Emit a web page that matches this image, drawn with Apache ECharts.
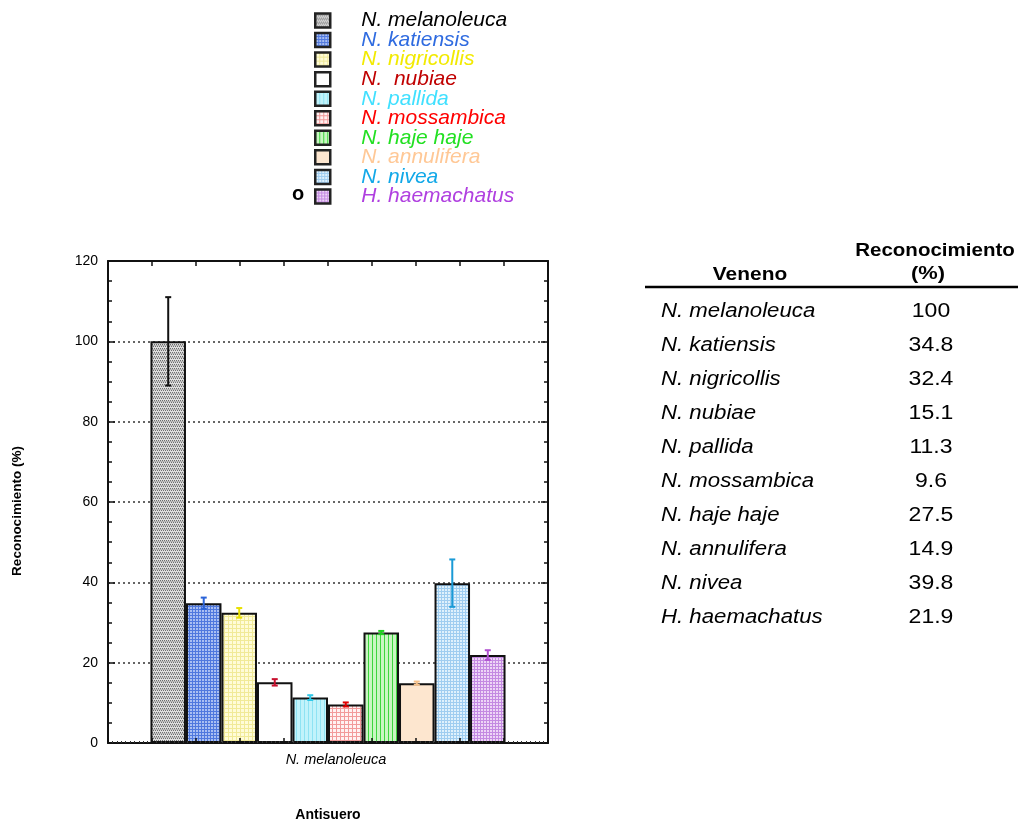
<!DOCTYPE html>
<html>
<head>
<meta charset="utf-8">
<script src="https://cdn.jsdelivr.net/npm/echarts@6/dist/echarts.min.js"></script>
<style>
  html, body { margin: 0; padding: 0; background: #ffffff; }
  #chart { width: 1018px; height: 825px; }
</style>
</head>
<body>
<div id="chart"></div>
<script>
// Venoms tested against the N. melanoleuca antiserum
const venoms = ['N. melanoleuca', 'N. katiensis', 'N. nigricollis', 'N. nubiae', 'N. pallida',
  'N. mossambica', 'N. haje haje', 'N. annulifera', 'N. nivea', 'H. haemachatus'];
// Recognition (%) for each venom
const recognition = [100, 34.8, 32.4, 15.1, 11.3, 9.6, 27.5, 14.9, 39.8, 21.9];
// Error bar half-lengths (%)
const errors = [11, 1.4, 1.2, 0.8, 0.6, 0.5, 0.4, 0.4, 5.9, 1.2];
// Antiserum category on the x axis
const antiserum = ['N. melanoleuca'];
// Y tick values
const yTicks = { min: 0, max: 120, step: 20 };

const FONT = '"Liberation Sans", Arial, sans-serif';
const CAT_GAP = 0.193;

const legendColors = ['#000000', '#2f6be0', '#f2ea00', '#c00000', '#40e0ff',
  '#ff0000', '#22e022', '#ffc896', '#12a8e8', '#b040e0'];
const errColors = ['#111111', '#2a63d8', '#e8e000', '#c8102e', '#30c8e8',
  '#e00000', '#20d020', '#f5c08a', '#1a9ad6', '#b050d0'];

// Small repeating fill textures for the bars
function tile(size, bg, draw) {
  const c = document.createElement('canvas');
  c.width = size; c.height = size;
  const g = c.getContext('2d');
  g.fillStyle = bg; g.fillRect(0, 0, size, size);
  draw(g);
  return { image: c, repeat: 'repeat' };
}
function grid(size, bg, fg, vert, horiz) {
  return tile(size, bg, g => {
    g.fillStyle = fg;
    if (vert) g.fillRect(0, 0, 1, size);
    if (horiz) g.fillRect(0, 0, size, 1);
  });
}
const fills = [
  tile(4, '#dedede', g => {
    g.fillStyle = '#6e6e6e';
    g.fillRect(0, 0, 1, 1); g.fillRect(2, 0, 1, 1);
    g.fillRect(1, 2, 1, 1); g.fillRect(3, 2, 1, 1);
    g.fillStyle = '#b4b4b4';
    g.fillRect(0, 1, 4, 1);
  }),
  grid(3, '#a9bff2', '#4f78de', true, true),
  grid(4, '#fffcd8', '#f1ea98', true, true),
  '#ffffff',
  grid(4, '#c2f3fb', '#8fe3f3', true, false),
  grid(4, '#fff2f2', '#f29a9a', true, true),
  grid(4, '#c9f6c2', '#3dd63d', true, false),
  '#fde6cf',
  grid(3, '#dff1fc', '#9fcdf0', true, true),
  grid(3, '#eed6f6', '#c48ae2', true, true)
];

const barSeries = venoms.map((name, i) => ({
  name: name,
  type: 'bar',
  xAxisIndex: 0,
  yAxisIndex: 0,
  data: [recognition[i]],
  barGap: '0%',
  barCategoryGap: (CAT_GAP * 100) + '%',
  itemStyle: { color: fills[i], borderColor: '#111111', borderWidth: 2 },
  emphasis: { disabled: true },
  z: 2
}));

// Error bars positioned over each bar within the category band
const errorSeries = {
  name: 'error',
  type: 'custom',
  xAxisIndex: 0,
  yAxisIndex: 0,
  z: 5,
  data: recognition.map((v, i) => [0, v, errors[i], i]),
  renderItem: function (params, api) {
    const idx = api.value(3);
    const v = api.value(1), e = api.value(2);
    const band = api.size([1, 0])[0];
    const barW = band * (1 - CAT_GAP) / venoms.length;
    const c = api.coord([api.value(0), v]);
    const x = c[0] + (idx - (venoms.length - 1) / 2) * barW;
    const yHi = api.coord([0, v + e])[1];
    const yLo = api.coord([0, v - e])[1];
    const cap = 3;
    const style = { stroke: errColors[idx], lineWidth: 2 };
    return {
      type: 'group',
      children: [
        { type: 'line', shape: { x1: x, y1: yHi, x2: x, y2: yLo }, style: style },
        { type: 'line', shape: { x1: x - cap, y1: yHi, x2: x + cap, y2: yHi }, style: style },
        { type: 'line', shape: { x1: x - cap, y1: yLo, x2: x + cap, y2: yLo }, style: style }
      ]
    };
  }
};

// Table of recognition values at the right, plus the y axis title
const tableX = 661, valueX = 931, rowY0 = 311, rowStep = 34.05;
const tableGraphics = [
  { type: 'text', x: 750, y: 275, scaleX: 1.1,
    style: { text: 'Veneno', x: 0, y: 0, textAlign: 'center', textVerticalAlign: 'middle',
      font: 'bold 19px ' + FONT, fill: '#000' } },
  { type: 'text', x: 935, y: 251, scaleX: 1.08,
    style: { text: 'Reconocimiento', x: 0, y: 0, textAlign: 'center', textVerticalAlign: 'middle',
      font: 'bold 19px ' + FONT, fill: '#000' } },
  { type: 'text', x: 928, y: 274, scaleX: 1.15,
    style: { text: '(%)', x: 0, y: 0, textAlign: 'center', textVerticalAlign: 'middle',
      font: 'bold 19px ' + FONT, fill: '#000' } },
  { type: 'line', shape: { x1: 645, y1: 287, x2: 1018, y2: 287 },
    style: { stroke: '#000', lineWidth: 2.5 } },
  { type: 'text', left: 292, top: 184,
    style: { text: 'o', font: 'bold 20px ' + FONT, fill: '#000' } },
  { type: 'text', x: 17, y: 511, rotation: Math.PI / 2,
    style: { text: 'Reconocimiento (%)', x: 0, y: 0, textAlign: 'center', textVerticalAlign: 'middle',
      font: 'bold 13.5px ' + FONT, fill: '#000' } }
];
venoms.forEach((name, i) => {
  const y = rowY0 + rowStep * i;
  tableGraphics.push({ type: 'text', x: tableX, y: y, scaleX: 1.11,
    style: { text: name, x: 0, y: 0, textAlign: 'left', textVerticalAlign: 'middle',
      font: 'italic 20px ' + FONT, fill: '#000' } });
  tableGraphics.push({ type: 'text', x: valueX, y: y, scaleX: 1.15,
    style: { text: String(recognition[i]), x: 0, y: 0, textAlign: 'center', textVerticalAlign: 'middle',
      font: '20px ' + FONT, fill: '#000' } });
});

// Frame axes: every side keeps its own edge and shows inward ticks
const axisLine = { show: true, onZero: false, lineStyle: { color: '#111111', width: 2 } };
const frameX = {
  type: 'value', min: 0, max: 10, interval: 1, z: 10,
  axisLine: axisLine,
  axisTick: { show: true, inside: true, length: 5, lineStyle: { color: '#111', width: 1.5 } },
  minorTick: { show: true, splitNumber: 10, length: 2, lineStyle: { color: '#333', width: 1 } },
  axisLabel: { show: false },
  splitLine: { show: false }
};
const frameY = {
  type: 'value', min: yTicks.min, max: yTicks.max, interval: yTicks.step,
  axisLine: axisLine,
  axisTick: { show: true, inside: true, length: 7, lineStyle: { color: '#111', width: 1.5 } },
  minorTick: { show: true, splitNumber: 4, length: 4, lineStyle: { color: '#111', width: 1.5 } }
};

const chart = echarts.init(document.getElementById('chart'), null, { renderer: 'canvas' });
chart.setOption({
  animation: false,
  backgroundColor: '#ffffff',
  textStyle: { fontFamily: FONT },
  grid: { left: 108, right: 470, top: 261, bottom: 82, outerBoundsMode: 'none' },
  legend: {
    orient: 'vertical',
    left: 314,
    top: 10,
    padding: 0,
    icon: 'rect',
    itemWidth: 15,
    itemHeight: 14,
    itemGap: -1.45,
    selectedMode: false,
    itemStyle: { borderColor: '#222', borderWidth: 2.5 },
    formatter: n => n === 'N. nubiae' ? 'N.  nubiae' : n,
    textStyle: { fontFamily: FONT, fontStyle: 'italic', fontSize: 21,
      padding: [0, 0, 0, 26] },
    data: venoms.map((n, i) => ({ name: n, textStyle: { color: legendColors[i] } }))
  },
  xAxis: [
    {
      type: 'category', data: antiserum, position: 'bottom',
      axisLine: { show: false, onZero: false }, axisTick: { show: false },
      axisLabel: { fontFamily: FONT, fontStyle: 'italic', fontSize: 14.5, color: '#000',
        margin: 9, padding: [0, 0, 0, 16] }
    },
    Object.assign({}, frameX, {
      position: 'bottom',
      name: 'Antisuero', nameLocation: 'middle', nameGap: 65,
      nameTextStyle: { fontFamily: FONT, fontWeight: 'bold', fontSize: 14, color: '#000' }
    }),
    Object.assign({}, frameX, { position: 'top', minorTick: { show: false } })
  ],
  yAxis: [
    Object.assign({}, frameY, {
      position: 'left',
      axisLabel: { fontFamily: FONT, fontSize: 14, color: '#000', margin: 10 },
      splitLine: { show: true, lineStyle: { color: '#333', width: 1.5, type: [2, 3] } }
    }),
    Object.assign({}, frameY, {
      position: 'right',
      axisLabel: { show: false },
      splitLine: { show: false }
    })
  ],
  graphic: tableGraphics,
  series: barSeries.concat([errorSeries])
});
</script>
</body>
</html>
